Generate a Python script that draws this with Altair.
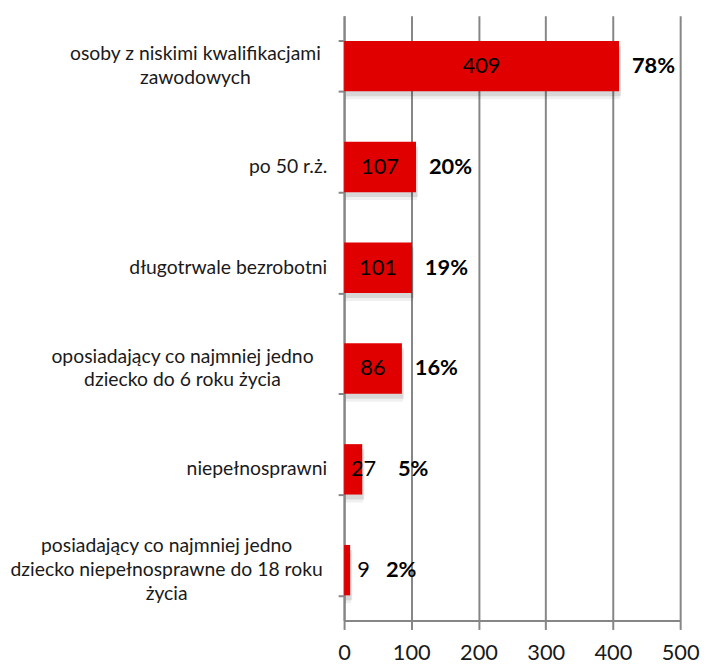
import altair as alt
import pandas as pd

categories = [
    "osoby z niskimi kwalifikacjami|zawodowych",
    "po 50 r.ż.",
    "długotrwale bezrobotni",
    "oposiadający co najmniej jedno|dziecko do 6 roku życia",
    "niepełnosprawni",
    "posiadający co najmniej jedno|dziecko niepełnosprawne do 18 roku|życia",
]
values = [409, 107, 101, 86, 27, 9]
percents = [78, 20, 19, 16, 5, 2]
x_ticks = [0, 100, 200, 300, 400, 500]

df = pd.DataFrame({"category": categories, "value": values, "pct": percents})

RED = "#E00000"
GRAY = "#868686"
FONT = "Lato"
LABEL_SIZE = 19.5

y_enc = alt.Y(
    "category:N",
    sort=categories,
    scale=alt.Scale(paddingInner=0.5, paddingOuter=0.25),
    axis=alt.Axis(
        title=None,
        labels=False,
        tickBand="extent",
        tickSize=6,
        tickColor=GRAY,
        tickWidth=2,
        domainColor=GRAY,
        domainWidth=2,
        grid=False,
    ),
)

x_scale = alt.Scale(domain=[0, 500], nice=False)
x_axis = alt.Axis(
    title=None,
    values=x_ticks,
    labelFont=FONT,
    labelFontSize=22,
    labelColor="#1a1a1a",
    labelPadding=13,
    labelFlush=False,
    tickSize=9,
    tickColor=GRAY,
    tickWidth=2,
    domainColor=GRAY,
    domainWidth=2,
    grid=True,
    gridColor=GRAY,
    gridWidth=2,
)

base = alt.Chart(df)

shadow2 = base.mark_bar(color="#000000", opacity=0.06, xOffset=1, yOffset=8).encode(
    x=alt.X("value:Q", scale=x_scale, axis=x_axis), y=y_enc
)
shadow1 = base.mark_bar(color="#000000", opacity=0.10, xOffset=2, yOffset=5).encode(
    x=alt.X("value:Q", scale=x_scale, axis=x_axis), y=y_enc
)
bars = base.mark_bar(color=RED).encode(
    x=alt.X("value:Q", scale=x_scale, axis=x_axis), y=y_enc
)

value_text = (
    base.transform_calculate(lx="datum.value > 50 ? datum.value / 2 : 29")
    .mark_text(font=FONT, fontSize=22, color="#000000", align="center", baseline="middle")
    .encode(x=alt.X("lx:Q", scale=x_scale, axis=x_axis), y=y_enc, text="value:Q")
)

pct_text = (
    base.transform_calculate(
        px="datum.value > 50 ? datum.value : datum.value + 34",
        plabel="datum.pct + '%'",
    )
    .mark_text(
        font=FONT, fontSize=22, fontWeight="bold", color="#000000",
        align="left", baseline="middle", dx=13,
    )
    .encode(x=alt.X("px:Q", scale=x_scale, axis=x_axis), y=y_enc, text="plabel:N")
)


def cat_label(test, align, xpos, dy):
    return (
        base.transform_filter(test)
        .transform_calculate(lines="split(datum.category, '|')")
        .mark_text(
            font=FONT, fontSize=LABEL_SIZE, color="#1a1a1a", align=align,
            baseline="middle", lineHeight=24, dy=dy,
        )
        .encode(x=alt.value(xpos), y=y_enc, text="lines:N")
    )


lab_single = cat_label("indexof(datum.category, '|') < 0", "right", -17, 0)
lab_row1 = cat_label("indexof(datum.category, 'zawodowych') >= 0", "center", -150, -12)
lab_row4 = cat_label("indexof(datum.category, '6 roku') >= 0", "center", -163, -12)
lab_row6 = cat_label("indexof(datum.category, '18 roku') >= 0", "center", -179, -24)

chart = (
    alt.layer(shadow2, shadow1, bars, value_text, pct_text,
              lab_single, lab_row1, lab_row4, lab_row6)
    .properties(
        width=339, height=610, background="white",
        autosize=alt.AutoSizeParams(type="none"),
        padding={"left": 339, "top": 5, "right": 20, "bottom": 40},
    )
    .configure_view(stroke=None)
)

chart.save("out.html", embed_options={"renderer": "svg", "actions": False})
